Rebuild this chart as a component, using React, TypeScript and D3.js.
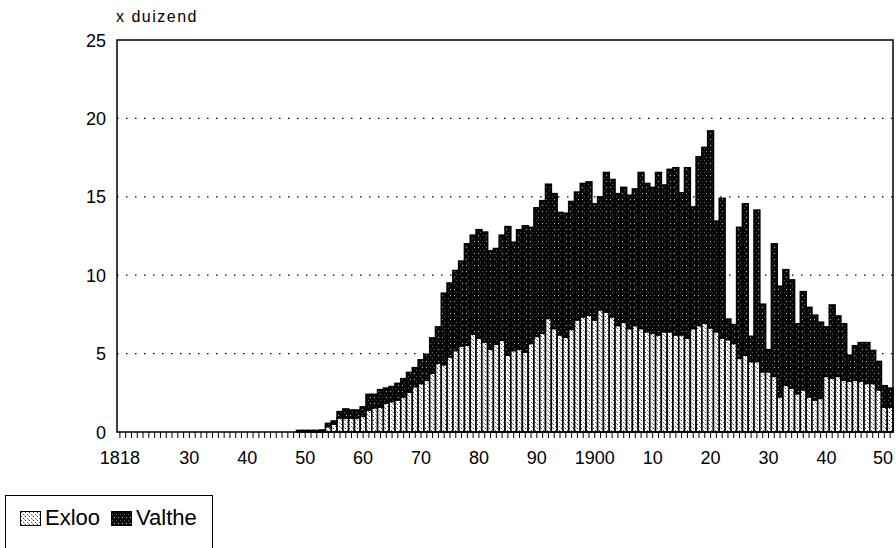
import React, { useEffect } from "react";
import * as d3 from "d3";

// ---- data (x duizend), one bar per year 1818..1951 ----
const firstYear = 1818;
const lastYear = 1951;
const years: number[] = d3.range(firstYear, lastYear + 1);

// totals (Exloo + Valthe), from 1849 on; earlier years are 0
const totalFrom1849: number[] = [
  0.1, 0.1, 0.1, 0.1, 0.12, 0.55, 0.7, 1.3, 1.47, 1.4, 1.4, // 1849-1859
  1.6, 2.4, 2.4, 2.7, 2.8, 2.9, 3.1, 3.4, 3.8, 4.1, // 1860-1869
  4.6, 4.95, 6.0, 6.7, 8.85, 9.5, 10.3, 10.9, 12.0, 12.55, // 1870-1879
  12.9, 12.75, 11.55, 11.7, 12.55, 13.1, 12.1, 12.9, 13.15, 13.05, // 1880-1889
  14.3, 14.75, 15.8, 15.2, 14.0, 13.95, 14.7, 15.3, 15.85, 15.95, // 1890-1899
  14.55, 15.0, 16.55, 16.1, 15.2, 15.6, 15.1, 15.5, 16.55, 15.85, // 1900-1909
  15.6, 16.55, 15.75, 16.75, 16.85, 15.25, 16.85, 14.35, 17.55, 18.15, // 1910-1919
  19.2, 13.45, 14.9, 7.2, 6.85, 13.05, 14.55, 6.1, 14.15, 8.15, // 1920-1929
  5.25, 12.0, 9.3, 10.35, 9.7, 6.9, 8.95, 7.95, 7.45, 7.0, // 1930-1939
  6.7, 8.1, 7.4, 6.9, 4.9, 5.5, 5.7, 5.7, 5.2, 4.5, // 1940-1949
  2.95, 2.8, // 1950-1951
];

const exlooFrom1849: number[] = [
  0.1, 0.1, 0.1, 0.1, 0.1, 0.35, 0.5, 0.9, 0.9, 0.9, 0.9, // 1849-1859
  1.0, 1.4, 1.55, 1.6, 1.85, 1.95, 2.05, 2.25, 2.55, 2.9, // 1860-1869
  3.1, 3.3, 3.75, 4.4, 4.3, 4.8, 5.2, 5.5, 5.55, 6.25, // 1870-1879
  6.0, 5.75, 5.3, 5.6, 5.85, 4.9, 5.2, 5.3, 5.1, 5.65, // 1880-1889
  6.1, 6.3, 7.25, 6.6, 6.2, 6.05, 6.55, 7.15, 7.35, 7.45, // 1890-1899
  7.15, 7.8, 7.65, 7.35, 6.8, 7.0, 6.6, 6.8, 6.6, 6.4, // 1900-1909
  6.3, 6.2, 6.4, 6.4, 6.2, 6.2, 6.0, 6.6, 6.8, 6.95, // 1910-1919
  6.65, 6.4, 6.0, 5.9, 5.65, 4.7, 4.9, 4.5, 4.5, 3.85, // 1920-1929
  3.85, 3.55, 2.25, 3.0, 2.8, 2.45, 2.7, 2.25, 2.05, 2.15, // 1930-1939
  3.55, 3.45, 3.55, 3.3, 3.25, 3.3, 3.25, 3.1, 3.1, 2.7, // 1940-1949
  1.6, 1.6, // 1950-1951
];

const leadingZeros: number[] = d3.range(firstYear, 1849).map(() => 0);
const exloo: number[] = [...leadingZeros, ...exlooFrom1849];
const valthe: number[] = [...leadingZeros, ...totalFrom1849.map((t, i) => Math.max(0, t - exlooFrom1849[i]))];

const yTicks: number[] = [0, 5, 10, 15, 20, 25];
const gridTicks: number[] = [5, 10, 15, 20];
const xLabelYears: number[] = [1818, 1830, 1840, 1850, 1860, 1870, 1880, 1890, 1900, 1910, 1920, 1930, 1940, 1950];
const xLabels: string[] = ["1818", "30", "40", "50", "60", "70", "80", "90", "1900", "10", "20", "30", "40", "50"];
const seriesNames: string[] = ["Exloo", "Valthe"];

const W = 896;
const H = 548;
const M = { left: 117, right: 893, top: 40, bottom: 432 };
const FONT = "'Liberation Sans', Arial, Helvetica, sans-serif";

export default function App() {
  useEffect(() => {
    document.body.style.margin = "0";
  }, []);

  const x = d3.scaleBand<number>().domain(years).range([M.left, M.right]).padding(0);
  const y = d3.scaleLinear().domain([0, 25]).range([M.bottom, M.top]);
  const bw = x.bandwidth();

  return (
    <svg width={W} height={H} style={{ display: "block", background: "#fff" }} fontFamily={FONT}>
      <defs>
        <pattern id="pExloo" width={4} height={4} patternUnits="userSpaceOnUse">
          <rect width={4} height={4} fill="#fff" />
          <rect x={1} y={0} width={1} height={1} fill="#444" />
          <rect x={3} y={2} width={1} height={1} fill="#666" />
          <rect x={0} y={3} width={1} height={1} fill="#999" />
        </pattern>
        <pattern id="pValthe" width={4} height={6} patternUnits="userSpaceOnUse">
          <rect width={4} height={6} fill="#0a0a0a" />
          <rect x={2} y={1} width={1} height={1} fill="#bbb" />
          <rect x={0} y={4} width={1} height={1} fill="#555" />
        </pattern>
      </defs>

      {/* dotted gridlines */}
      {gridTicks.map((t) => (
        <line key={"g" + t} x1={M.left} x2={M.right} y1={y(t)} y2={y(t)}
          stroke="#000" strokeWidth={1.3} strokeDasharray="1.5 7.5" />
      ))}

      {/* bars */}
      {years.map((yr, i) => {
        const x0 = x(yr)!;
        const e = exloo[i];
        const v = valthe[i];
        if (e + v <= 0) return null;
        return (
          <g key={"b" + yr}>
            {e > 0 && (
              <rect x={x0} y={y(e)} width={bw} height={y(0) - y(e)}
                fill="url(#pExloo)" stroke="#000" strokeWidth={1.6} />
            )}
            {v > 0 && (
              <rect x={x0} y={y(e + v)} width={bw} height={y(e) - y(e + v)}
                fill="url(#pValthe)" stroke="#000" strokeWidth={1.6} />
            )}
          </g>
        );
      })}

      {/* frame */}
      <rect x={M.left} y={M.top} width={M.right - M.left} height={M.bottom - M.top}
        fill="none" stroke="#000" strokeWidth={1.5} />

      {/* x ticks, one per year */}
      {years.map((yr) => {
        const cx = x(yr)! + bw / 2;
        return <line key={"t" + yr} x1={cx} x2={cx} y1={M.bottom} y2={M.bottom + 6} stroke="#000" strokeWidth={1} />;
      })}

      {/* y labels */}
      {yTicks.map((t) => (
        <text key={"y" + t} x={106} y={y(t) + 6.5} textAnchor="end" fontSize={18} fill="#000">{t}</text>
      ))}

      {/* x labels at their year */}
      {xLabelYears.map((yr, i) => {
        const cx = Math.min(x(yr)! + bw / 2, M.right - 10);
        return (
          <text key={"x" + i} x={cx} y={464} textAnchor="middle" fontSize={18} fill="#000">{xLabels[i]}</text>
        );
      })}

      {/* unit */}
      <text x={116} y={22} fontSize={16} letterSpacing={1.5} fill="#000">x duizend</text>

      {/* legend */}
      <rect x={5.5} y={495.5} width={207} height={70} fill="#fff" stroke="#000" strokeWidth={1} />
      <rect x={20.5} y={511.5} width={20} height={14} fill="url(#pExloo)" stroke="#000" strokeWidth={1} />
      <text x={45} y={525} fontSize={22} fill="#000">{seriesNames[0]}</text>
      <rect x={111.5} y={511.5} width={20} height={14} fill="url(#pValthe)" stroke="#000" strokeWidth={1} />
      <text x={136} y={525} fontSize={22} fill="#000">{seriesNames[1]}</text>
    </svg>
  );
}
